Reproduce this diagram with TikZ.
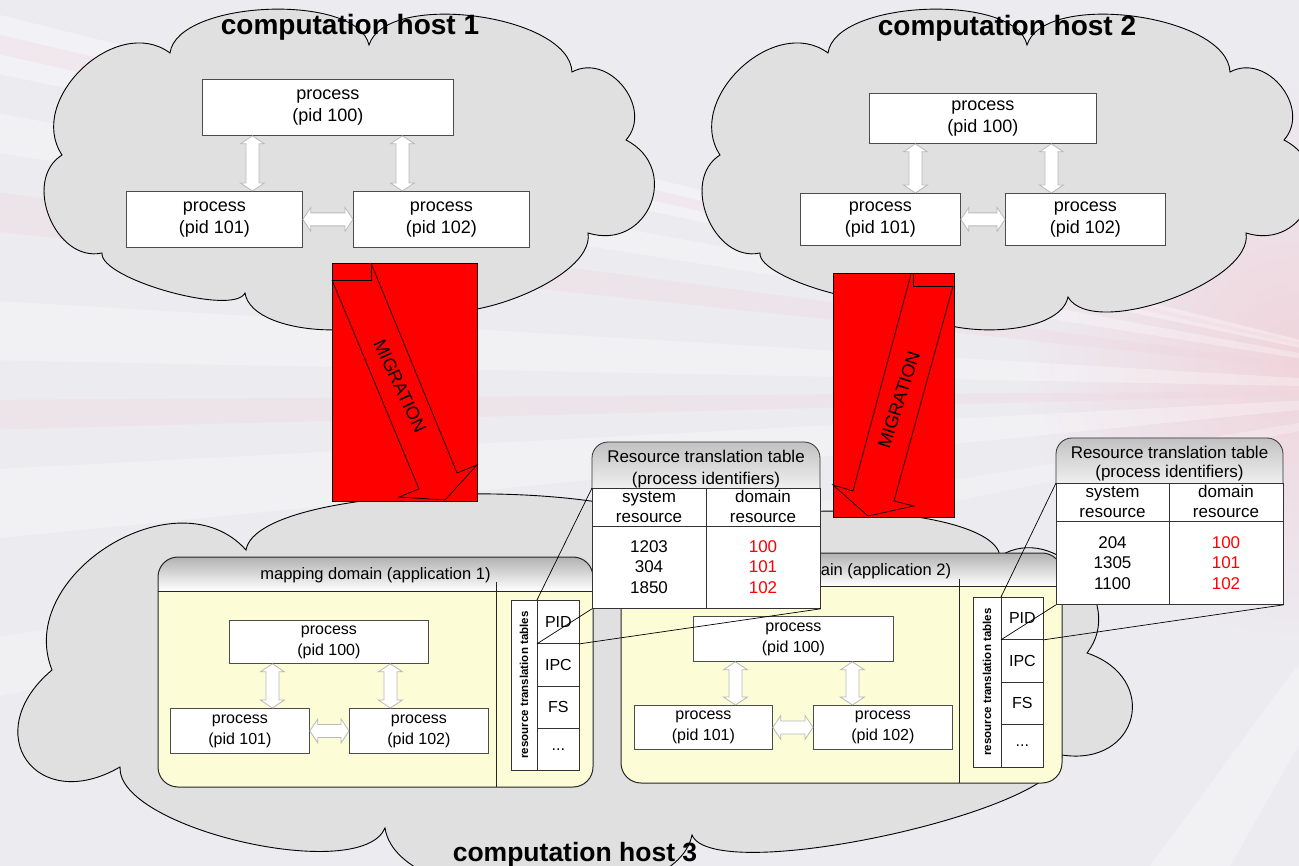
\documentclass[tikz,border=0pt]{standalone}
\usepackage{fontspec}
\setmainfont{Liberation Sans}
\usetikzlibrary{calc}

\definecolor{bgbase}{RGB}{236,235,240}
\definecolor{glowpink}{RGB}{240,212,220}
\definecolor{cloudgray}{RGB}{224,224,224}
\definecolor{domyellow}{RGB}{252,252,214}
\definecolor{hdrgray}{RGB}{178,178,178}
\definecolor{arrowedge}{RGB}{185,185,185}
\definecolor{migred}{RGB}{255,0,0}
\definecolor{numred}{RGB}{255,0,0}

\newcommand\setfs[2]{\fontsize{#1}{#2}\selectfont}

% hollow double-headed block arrow between two points
\newcommand\blockarrow[2]{%
  \draw[barrow] (#1)
    -- ($(#1)!8pt!(#2)!12pt!90:(#2)$) -- ($(#1)!8pt!(#2)!6.5pt!90:(#2)$)
    -- ($(#2)!8pt!(#1)!6.5pt!-90:(#1)$) -- ($(#2)!8pt!(#1)!12pt!-90:(#1)$)
    -- (#2)
    -- ($(#2)!8pt!(#1)!12pt!90:(#1)$) -- ($(#2)!8pt!(#1)!6.5pt!90:(#1)$)
    -- ($(#1)!8pt!(#2)!6.5pt!-90:(#2)$) -- ($(#1)!8pt!(#2)!12pt!-90:(#2)$)
    -- cycle;}

% outline of a host cloud, shifted horizontally
\newcommand\hostcloud[1]{%
  \draw[cloudst, xshift=#1pt] (170,53)
    to[bend left=80, looseness=0.69] (369,45)
    to[bend left=80, looseness=0.72] (572,72)
    to[bend left=80, looseness=1.24] (626,140)
    to[bend left=85, looseness=1.6] (588,233)
    to[bend left=80, looseness=0.67] (410,297)
    to[bend left=80, looseness=0.73] (245,293)
    to[bend left=80, looseness=0.45] (102,253)
    to[bend left=80, looseness=1.15] (62,155)
    to[bend left=80, looseness=1.14] cycle;}

\tikzset{
  cloudst/.style={draw=black, line width=0.9pt, fill=cloudgray},
  sz/.style 2 args={minimum width=#1pt, minimum height=#2pt},
  proc/.style={draw=black!70, line width=0.8pt, fill=white, align=center,
    inner sep=0pt, anchor=north west},
  hproc/.style={proc, font=\setfs{18}{22}},
  dproc/.style={proc, font=\setfs{16}{21}},
  barrow/.style={draw=arrowedge, fill=white, line width=0.8pt},
  hosttitle/.style={font=\bfseries\setfs{28}{32}, anchor=base, inner sep=0pt},
  domedge/.style={draw=black!85, line width=1pt},
  cell/.style={draw=black!80, line width=0.8pt, fill=white, inner sep=0pt,
    anchor=north west, font=\setfs{16}{19}},
  rtt/.style={draw=black!80, line width=0.8pt, fill=white, inner sep=0pt,
    rotate=90, font=\bfseries\setfs{11.5}{13}},
  tabtext/.style={font=\setfs{17}{20}, anchor=base, inner sep=0pt},
  tabbody/.style={draw=black!80, line width=0.8pt, fill=white, inner sep=0pt,
    anchor=north west},
  hdrtext/.style={font=\setfs{16.5}{20}, anchor=base, inner sep=0pt},
  callout/.style={draw=black, line width=0.7pt},
  migbox/.style={draw=black, line width=0.9pt, fill=migred, inner sep=0pt,
    anchor=north west},
  migarrow/.style={draw=black, line width=0.7pt, fill=migred, line join=miter},
  migtext/.style={font=\setfs{18}{20}, inner sep=0pt},
}

\begin{document}
\begin{tikzpicture}[x=1pt, y=-1pt]
\useasboundingbox (0,0) rectangle (1299,866);
\clip (0,0) rectangle (1299,866);

% ---------- backdrop ----------
\fill[bgbase] (0,0) rectangle (1299,866);
\shade[inner color=glowpink, outer color=bgbase] (1299,360) circle (280pt);
\foreach \ya/\yb/\op in {10/70/0.35, 110/150/0.3, 300/360/0.3, 470/540/0.3, 640/700/0.25}
  \fill[white, opacity=\op] (1500,390) -- (-20,\ya) -- (-20,\yb) -- cycle;
\foreach \ya/\yb in {30/50, 190/230, 400/430}
  \fill[glowpink, opacity=0.3] (1500,390) -- (-20,\ya) -- (-20,\yb) -- cycle;
\fill[white, opacity=0.3] (1500,390) -- (1150,866) -- (1230,866) -- cycle;

% ---------- host clouds 1 and 2 ----------
\hostcloud{0}
\hostcloud{658}

\node[hosttitle] (t1) at (350,35) {computation host 1};
\node[hosttitle] (t2) at (1007,36) {computation host 2};

\node[hproc, sz={251}{56}] (h1p100) at (202,79) {process\\(pid 100)};
\node[hproc, sz={176}{56}] (h1p101) at (126,191) {process\\(pid 101)};
\node[hproc, sz={176}{56}] (h1p102) at (353,191) {process\\(pid 102)};
\coordinate (h1a) at ([xshift=-75.5pt]h1p100.south);
\coordinate (h1b) at ([xshift=74.5pt]h1p100.south);
\blockarrow{h1a}{h1p101.north -| h1a}
\blockarrow{h1b}{h1p102.north -| h1b}
\blockarrow{h1p101.east}{h1p102.west}

\node[hproc, sz={227}{50}] (h2p100) at (869,93) {process\\(pid 100)};
\node[hproc, sz={160}{52}] (h2p101) at (800,193) {process\\(pid 101)};
\node[hproc, sz={160}{52}] (h2p102) at (1005,193) {process\\(pid 102)};
\coordinate (h2a) at ([xshift=-67.5pt]h2p100.south);
\coordinate (h2b) at ([xshift=68.5pt]h2p100.south);
\blockarrow{h2a}{h2p101.north -| h2a}
\blockarrow{h2b}{h2p102.north -| h2b}
\blockarrow{h2p101.east}{h2p102.west}

% ---------- host cloud 3 ----------
\draw[cloudst] (120,767)
  to[bend left=85, looseness=2.1] (52,670)
  to[bend left=80, looseness=1.15] (246,550)
  to[bend left=80, looseness=0.42] (700,548)
  to[bend left=80, looseness=0.47] (1000,556)
  to[bend left=80, looseness=1.28] (1087,653)
  to[bend left=85, looseness=1.9] (1062,755)
  to[bend left=80, looseness=0.38] (692,835)
  to[bend left=80, looseness=0.73] (385,828)
  to[bend left=80, looseness=0.58] cycle;
\node[hosttitle, font=\bfseries\setfs{26.5}{30}] (t3) at (575,861) {computation host 3};

% ---------- migration arrows ----------
\node[migbox, sz={145}{238}] (mig1) at (332,263) {};
\draw[migarrow] (332,280) -- (419,489) -- (399,497) -- (445,500) -- (477,465)
  -- (457,473) -- (371,263);
\draw[migarrow, fill=none] (332,280) -- (371,280) -- (371,263);
\node[migtext, rotate=-65] (mt1) at (400,386) {MIGRATION};

\node[migbox, sz={121}{244}] (mig2) at (833,273) {};
\draw[migarrow] (911,274) -- (853,491) -- (833,485) -- (868,516) -- (914,506)
  -- (894,501) -- (953,286);
\draw[migarrow, fill=none] (913,273) -- (913,286) -- (953,286);
\node[migtext, rotate=72] (mt2) at (899,400) {MIGRATION};

% ---------- mapping domain 1 ----------
\begin{scope}
  \clip[rounded corners=20pt] (158,557) rectangle (593,787);
  \fill[domyellow] (158,557) rectangle (593,787);
  \shade[top color=hdrgray, bottom color=white] (158,557) rectangle (593,591);
\end{scope}
\draw[domedge, rounded corners=20pt] (158,557) rectangle (593,787);
\draw[domedge] (158,591) -- (593,591);
\draw[domedge] (496,582) -- (496,787);
\node[hdrtext] (d1title) at (375.5,579) {mapping domain (application 1)};

\node[dproc, sz={199}{43}] (d1p100) at (229,620) {process\\(pid 100)};
\node[dproc, sz={139}{45}] (d1p101) at (170,708) {process\\(pid 101)};
\node[dproc, sz={139}{45}] (d1p102) at (349,708) {process\\(pid 102)};
\coordinate (d1a) at ([xshift=-56.5pt]d1p100.south);
\coordinate (d1b) at ([xshift=61.5pt]d1p100.south);
\blockarrow{d1a}{d1p101.north -| d1a}
\blockarrow{d1b}{d1p102.north -| d1b}
\blockarrow{d1p101.east}{d1p102.west}

\node[rtt, minimum width=170pt, minimum height=26pt] (d1rtt) at (524,685) {resource translation tables};
\node[cell, sz={42}{43}] (d1pid) at (537,600) {PID};
\node[cell, sz={42}{43}] (d1ipc) at (537,643) {IPC};
\node[cell, sz={42}{42}] (d1fs)  at (537,686) {FS};
\node[cell, sz={42}{42}] (d1etc) at (537,728) {...};

% ---------- mapping domain 2 ----------
\begin{scope}
  \clip[rounded corners=20pt] (621,553) rectangle (1062,783);
  \fill[domyellow] (621,553) rectangle (1062,783);
  \shade[top color=hdrgray, bottom color=white] (621,553) rectangle (1062,586);
\end{scope}
\draw[domedge, rounded corners=20pt] (621,553) rectangle (1062,783);
\draw[domedge] (621,586) -- (1062,586);
\draw[domedge] (959,579) -- (959,783);
\node[hdrtext] (d2title) at (836,575) {mapping domain (application 2)};

\node[dproc, sz={200}{45}] (d2p100) at (693,616) {process\\(pid 100)};
\node[dproc, sz={138}{44}] (d2p101) at (634,705) {process\\(pid 101)};
\node[dproc, sz={139}{44}] (d2p102) at (813,705) {process\\(pid 102)};
\coordinate (d2a) at ([xshift=-58pt]d2p100.south);
\coordinate (d2b) at ([xshift=59pt]d2p100.south);
\blockarrow{d2a}{d2p101.north -| d2a}
\blockarrow{d2b}{d2p102.north -| d2b}
\blockarrow{d2p101.east}{d2p102.west}

\node[rtt, minimum width=170pt, minimum height=28pt] (d2rtt) at (987,682) {resource translation tables};
\node[cell, sz={42}{42}] (d2pid) at (1001,597) {PID};
\node[cell, sz={42}{43}] (d2ipc) at (1001,639) {IPC};
\node[cell, sz={42}{42}] (d2fs)  at (1001,682) {FS};
\node[cell, sz={42}{43}] (d2etc) at (1001,724) {...};

% ---------- resource translation table 1 ----------
\begin{scope}
  \clip (589,436) rectangle (823,488);
  \shadedraw[draw=black!80, line width=0.8pt, top color=hdrgray!80, bottom color=white,
    rounded corners=16pt] (592,442) rectangle (820,504);
\end{scope}
\node[tabbody, sz={228}{120}] (t1body) at (592,488) {};
\draw[draw=black!80, line width=0.8pt] ([yshift=-38pt]t1body.north west) -- ([yshift=-38pt]t1body.north east);
\draw[draw=black!80, line width=0.8pt] ([xshift=114pt]t1body.north west) -- ([xshift=114pt]t1body.south west);

\draw[callout] (d1pid.north west) -- (t1body.north west);
\draw[callout] (d1pid.south west) -- (t1body.south west);
\draw[callout] (d1pid.south east) -- (t1body.south east);

\node[tabtext] at (706,463) {Resource translation table};
\node[tabtext] at (706,484) {(process identifiers)};
\node[tabtext] at (649,502) {system};
\node[tabtext] at (649,522) {resource};
\node[tabtext] at (763,502) {domain};
\node[tabtext] at (763,522) {resource};
\node[tabtext] at (649,552) {1203};
\node[tabtext] at (649,572) {304};
\node[tabtext] at (649,593) {1850};
\node[tabtext, text=numred] at (763,552) {100};
\node[tabtext, text=numred] at (763,572) {101};
\node[tabtext, text=numred] at (763,593) {102};

% ---------- resource translation table 2 ----------
\begin{scope}
  \clip (1053,432) rectangle (1286,483);
  \shadedraw[draw=black!80, line width=0.8pt, top color=hdrgray!80, bottom color=white,
    rounded corners=16pt] (1056,438) rectangle (1283,499);
\end{scope}
\node[tabbody, sz={227}{121}] (t2body) at (1056,483) {};
\draw[draw=black!80, line width=0.8pt] ([yshift=-38pt]t2body.north west) -- ([yshift=-38pt]t2body.north east);
\draw[draw=black!80, line width=0.8pt] ([xshift=113pt]t2body.north west) -- ([xshift=113pt]t2body.south west);

\draw[callout] (d2pid.north west) -- (t2body.north west);
\draw[callout] (d2pid.south west) -- (t2body.south west);
\draw[callout] (d2pid.south east) -- (t2body.south east);

\node[tabtext] at (1169.5,458) {Resource translation table};
\node[tabtext] at (1169.5,478) {(process identifiers)};
\node[tabtext] at (1112.5,497) {system};
\node[tabtext] at (1112.5,517) {resource};
\node[tabtext] at (1226,497) {domain};
\node[tabtext] at (1226,517) {resource};
\node[tabtext] at (1112.5,548) {204};
\node[tabtext] at (1112.5,568) {1305};
\node[tabtext] at (1112.5,589) {1100};
\node[tabtext, text=numred] at (1226,548) {100};
\node[tabtext, text=numred] at (1226,568) {101};
\node[tabtext, text=numred] at (1226,589) {102};

\end{tikzpicture}
\end{document}
